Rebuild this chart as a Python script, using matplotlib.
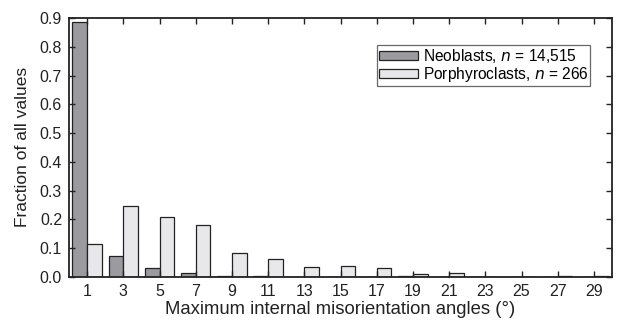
import numpy as np
import matplotlib.pyplot as plt

# 2-degree bins, labelled by bin centre
angles = [1, 3, 5, 7, 9, 11, 13, 15, 17, 19, 21, 23, 25, 27, 29]
neoblasts = [0.885, 0.072, 0.030, 0.014, 0.004, 0.001, 0.0005, 0.0005, 0.0005,
             0.002, 0.0005, 0.0003, 0.0003, 0.0003, 0.0003]
porphyroclasts = [0.114, 0.246, 0.208, 0.179, 0.081, 0.062, 0.035, 0.036, 0.029,
                  0.011, 0.014, 0.0, 0.0, 0.003, 0.003]

plt.rcParams['font.family'] = ['Liberation Sans', 'DejaVu Sans']

fig = plt.figure(figsize=(6.22, 3.24), dpi=100)
ax = fig.add_axes([0.111, 0.146, 0.873, 0.798])

x = np.array(angles)
w = 0.81
ax.bar(x - w / 2, neoblasts, width=w, color='#9b9b9f', edgecolor='#222222',
       linewidth=0.9, label='Neoblasts, $n$ = 14,515')
ax.bar(x + w / 2, porphyroclasts, width=w, color='#e8e8ea', edgecolor='#222222',
       linewidth=0.9, label='Porphyroclasts, $n$ = 266')

ax.set_xlim(0, 30)
ax.set_ylim(0, 0.9)
ax.set_xticks(angles)
ax.set_yticks(np.arange(0, 0.91, 0.1))
ax.set_yticklabels([f'{v:.1f}' for v in np.arange(0, 0.91, 0.1)])
ax.tick_params(direction='in', length=4, width=1, top=True, right=True,
               labelsize=11.5, colors='#222222', pad=5)
for s in ax.spines.values():
    s.set_linewidth(1.3)
    s.set_color('#222222')

ax.set_xlabel('Maximum internal misorientation angles (°)', fontsize=13.3,
              color='#222222', labelpad=2)
ax.set_ylabel('Fraction of all values', fontsize=12.5, color='#222222', labelpad=7)

leg = ax.legend(loc='upper right', bbox_to_anchor=(0.96, 0.896), fontsize=11.2,
                frameon=True, fancybox=False, edgecolor='#444444',
                handlelength=2.5, handleheight=0.5, borderpad=0.12,
                labelspacing=0.0, handletextpad=0.3, borderaxespad=0)
leg.get_frame().set_linewidth(0.9)

fig.savefig('out.png', dpi=100)
